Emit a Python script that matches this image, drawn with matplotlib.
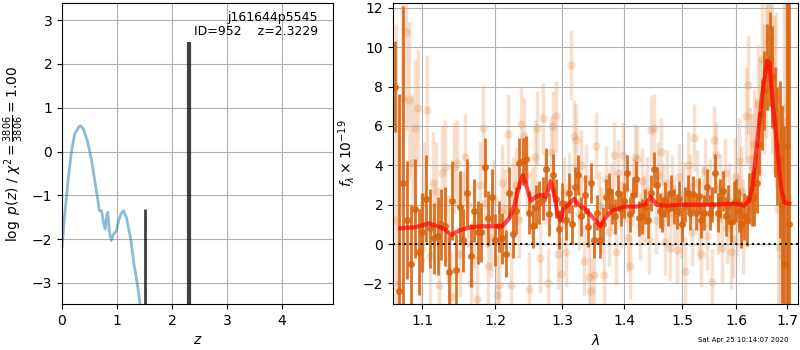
import numpy as np
import matplotlib
matplotlib.use('Agg')
import matplotlib.pyplot as plt
from matplotlib.ticker import FixedLocator, FixedFormatter, NullLocator, NullFormatter

# ---- p(z) panel ----
pz_z = [0.0, 0.05, 0.11, 0.17, 0.23, 0.31, 0.34, 0.39, 0.46, 0.54, 0.60, 0.63, 0.68,
        0.72, 0.75, 0.785, 0.816, 0.834, 0.86, 0.896, 0.94, 0.99, 1.03, 1.07, 1.12,
        1.17, 1.245, 1.31, 1.37, 1.42]
pz_logp = [-2.19, -1.43, -0.67, -0.02, 0.40, 0.57, 0.59, 0.51, 0.25, -0.21, -0.70, -0.93,
           -1.35, -1.35, -1.58, -1.77, -1.43, -1.39, -1.81, -2.03, -1.88, -1.81, -1.58,
           -1.43, -1.35, -1.50, -1.96, -2.57, -3.02, -3.48]
peak_z = [1.515, 2.319]
peak_logp = [-1.31, 2.51]
peak_lw = [2.0, 3.0]

# ---- spectrum panel: binned (dark) ----
lam_dark = [1.065, 1.070, 1.075, 1.080, 1.085, 1.090, 1.095, 1.100, 1.105, 1.110,
            1.115, 1.120, 1.125, 1.130, 1.135, 1.140, 1.145, 1.150, 1.155, 1.160,
            1.165, 1.170, 1.175, 1.180, 1.185, 1.190, 1.195, 1.200, 1.205, 1.210,
            1.215, 1.220, 1.225, 1.230, 1.235, 1.240, 1.245, 1.250, 1.255, 1.260,
            1.265, 1.270, 1.275, 1.280, 1.285, 1.290, 1.295, 1.300, 1.305, 1.310,
            1.315, 1.320, 1.325, 1.330, 1.335, 1.340, 1.345, 1.350, 1.355, 1.360,
            1.365, 1.370, 1.375, 1.380, 1.385, 1.390, 1.395, 1.400, 1.405, 1.410,
            1.415, 1.420, 1.425, 1.430, 1.435, 1.440, 1.445, 1.450, 1.455, 1.460,
            1.465, 1.470, 1.475, 1.480, 1.485, 1.490, 1.495, 1.500, 1.505, 1.510,
            1.515, 1.520, 1.525, 1.530, 1.535, 1.540, 1.545, 1.550, 1.555, 1.560,
            1.565, 1.570, 1.575, 1.580, 1.585, 1.590, 1.595, 1.600, 1.605, 1.610,
            1.615, 1.620, 1.625, 1.630, 1.635, 1.640, 1.645, 1.650, 1.655, 1.660,
            1.665, 1.670, 1.675, 1.680, 1.685, 1.690, 1.695, 1.700, 1.705]
flux_dark = [8.0, -2.4, 3.1, 1.2, -1.0, 1.8, -0.4, 0.6, 2.3, 0.8,
             0.3, 0.4, 1.0, 0.9, -1.4, 2.2, -1.3, 1.9, 0.2, 2.6,
             -0.6, 1.7, 0.6, 0.6, 3.9, 1.3, 2.4, 0.2, 0.9, 0.3,
             -0.5, 2.6, 0.5, 1.7, 4.1, 4.2, 4.3, 1.6, 0.9, 1.9,
             2.1, 2.3, 3.8, 1.5, 3.5, 2.3, 0.75, 2.1, 1.2, 2.6,
             1.0, 2.9, 3.5, 1.4, 2.5, 0.85, 3.1, 0.2, 1.6, 0.2,
             1.0, 2.4, 2.7, 1.9, 1.4, 2.6, 1.8, 2.2, 3.6, 1.5,
             2.5, 3.3, 1.3, 1.4, 1.9, 1.2, 2.6, 3.8, 3.0, 1.7,
             1.5, 2.25, 1.8, 2.6, 1.9, 1.66, 2.3, 1.0, 2.0, 2.6,
             1.6, 2.55, 1.6, 2.45, 1.2, 1.6, 2.9, 1.6, 2.0, 3.6,
             1.6, 2.3, 2.7, 1.4, 2.0, 1.1, 2.1, 2.2, 1.7, 1.0,
             1.4, 1.2, 2.3, 2.3, 2.4, 3.1, 5.1, 6.6, 7.8, 9.0,
             9.4, 8.5, 6.2, 5.0, 4.3, 2.0, -1.0, 5.0, 1.0]
err_dark = [2.3, 10.0, 9.0, 3.0, 3.0, 2.5, 2.2, 2.0, 2.2, 2.0,
            1.8, 2.0, 1.8, 2.0, 1.8, 2.0, 1.8, 1.8, 1.6, 1.7,
            1.6, 1.6, 1.6, 1.5, 1.5, 1.4, 1.4, 1.3, 1.3, 1.3,
            1.2, 1.3, 1.2, 1.2, 1.3, 1.2, 1.2, 1.1, 1.1, 1.1,
            1.1, 1.1, 1.1, 1.1, 1.1, 1.0, 1.0, 1.0, 1.0, 1.0,
            1.0, 1.0, 1.0, 1.0, 1.0, 1.0, 1.0, 0.9, 0.9, 0.9,
            0.9, 0.9, 0.9, 0.9, 0.9, 0.9, 0.9, 0.9, 0.9, 0.9,
            0.9, 0.9, 0.9, 0.9, 0.9, 0.9, 0.9, 0.9, 0.9, 0.9,
            0.9, 0.9, 0.9, 0.9, 0.9, 0.9, 0.9, 0.9, 0.9, 0.9,
            0.9, 0.9, 0.9, 0.9, 0.9, 0.9, 0.9, 0.9, 0.9, 1.0,
            1.0, 1.0, 1.0, 1.0, 1.0, 1.0, 1.1, 1.1, 1.1, 1.2,
            1.2, 1.3, 1.3, 1.4, 1.5, 1.5, 1.6, 1.8, 2.0, 2.2,
            2.4, 2.6, 2.8, 3.0, 4.0, 5.0, 7.0, 10.0, 12.0]

# ---- spectrum panel: unbinned (light) ----
lam_light = [1.066, 1.070, 1.074, 1.078, 1.082, 1.086, 1.090, 1.094, 1.098, 1.102,
             1.106, 1.110, 1.114, 1.118, 1.122, 1.126, 1.130, 1.134, 1.138, 1.142,
             1.146, 1.150, 1.154, 1.158, 1.162, 1.166, 1.170, 1.174, 1.178, 1.182,
             1.186, 1.190, 1.194, 1.198, 1.202, 1.206, 1.210, 1.214, 1.218, 1.222,
             1.226, 1.230, 1.234, 1.238, 1.242, 1.246, 1.250, 1.254, 1.258, 1.262,
             1.266, 1.270, 1.274, 1.278, 1.282, 1.286, 1.290, 1.294, 1.298, 1.302,
             1.306, 1.310, 1.314, 1.318, 1.322, 1.326, 1.330, 1.334, 1.338, 1.342,
             1.346, 1.350, 1.354, 1.358, 1.362, 1.366, 1.370, 1.374, 1.378, 1.382,
             1.386, 1.390, 1.394, 1.398, 1.402, 1.406, 1.410, 1.414, 1.418, 1.422,
             1.426, 1.430, 1.434, 1.438, 1.442, 1.446, 1.450, 1.454, 1.458, 1.462,
             1.466, 1.470, 1.474, 1.478, 1.482, 1.486, 1.490, 1.494, 1.498, 1.502,
             1.506, 1.510, 1.514, 1.518, 1.522, 1.526, 1.530, 1.534, 1.538, 1.542,
             1.546, 1.550, 1.554, 1.558, 1.562, 1.566, 1.570, 1.574, 1.578, 1.582,
             1.586, 1.590, 1.594, 1.598, 1.602, 1.606, 1.610, 1.614, 1.618, 1.622,
             1.626, 1.630, 1.634, 1.638, 1.642, 1.646, 1.650, 1.654, 1.658, 1.662,
             1.666, 1.670, 1.674, 1.678, 1.682, 1.686, 1.690, 1.694, 1.698, 1.702]
flux_light = [1.2, -2.0, 7.4, 10.8, 7.3, 4.1, 5.9, 6.9, -0.8, 2.4,
              6.8, -0.6, 3.1, 2.7, -2.1, 3.6, 3.9, 0.2, -2.7, 3.9,
              4.1, -0.5, 1.5, 4.4, 2.0, -2.0, 1.0, -2.8, 3.0, 5.9,
              2.1, -1.1, 0.3, 2.3, -2.6, -2.1, 3.1, 1.8, 5.6, -2.1,
              2.5, 3.0, 1.2, 6.1, 5.5, 3.5, -2.3, 2.0, 4.4, 5.9,
              -0.7, 6.4, 2.8, -2.0, 4.7, 6.0, 6.5, -0.5, -1.5, 2.6,
              -0.4, 2.9, 9.1, 5.5, 5.3, 1.5, 4.0, -0.85, 3.3, -1.7,
              -2.4, -1.6, 5.0, 2.0, 1.2, -1.6, 3.3, 0.6, 2.4, 4.5,
              -0.4, 3.6, 1.5, 4.5, 2.8, 0.3, -1.1, 2.6, 4.4, 4.3,
              0.9, 3.2, 1.8, 2.7, 0.2, 5.8, 5.9, 1.2, 3.5, 4.7,
              2.4, 0.1, 3.1, -0.2, 2.8, 1.6, -0.3, 3.4, 1.0, 2.5,
              -1.35, 4.0, 2.9, 0.6, 5.4, 3.1, 0.9, -0.5, 2.3, 3.7,
              0.4, 2.6, -1.95, 5.3, 4.5, 1.3, 2.8, -0.2, 3.6, 0.8,
              2.2, -0.4, 0.25, 3.4, 1.5, 4.2, 2.7, 0.9, 6.5, 8.1,
              4.3, 3.9, 5.1, 4.5, 7.1, 6.3, 9.4, 7.9, 8.8, 10.25,
              10.5, 8.4, 7.6, 7.3, 1.8, -0.2, -0.6, 6.9, 6.2, 2.4]
err_light = [10.0, 9.0, 6.0, 5.0, 4.0, 3.5, 3.5, 3.0, 3.0, 2.8,
             2.8, 2.6, 2.6, 2.5, 2.5, 2.4, 2.4, 2.3, 2.3, 2.3,
             2.2, 2.2, 2.2, 2.2, 2.2, 2.2, 2.2, 2.2, 2.2, 2.2,
             2.0, 2.0, 2.0, 2.0, 2.0, 2.0, 2.0, 2.0, 2.0, 2.0,
             1.9, 1.9, 1.9, 1.9, 1.9, 1.9, 1.9, 1.9, 1.9, 1.9,
             1.8, 1.8, 1.8, 1.8, 1.8, 1.8, 1.8, 1.8, 1.8, 1.8,
             1.8, 1.8, 1.8, 1.8, 1.8, 1.8, 1.8, 1.8, 1.8, 1.8,
             1.7, 1.7, 1.7, 1.7, 1.7, 1.7, 1.7, 1.7, 1.7, 1.7,
             1.7, 1.7, 1.7, 1.7, 1.7, 1.7, 1.7, 1.7, 1.7, 1.7,
             1.7, 1.7, 1.7, 1.7, 1.7, 1.7, 1.7, 1.7, 1.7, 1.7,
             1.7, 1.7, 1.7, 1.7, 1.7, 1.7, 1.7, 1.7, 1.7, 1.7,
             1.7, 1.7, 1.7, 1.7, 1.7, 1.7, 1.7, 1.7, 1.7, 1.7,
             1.7, 1.7, 1.7, 1.7, 1.7, 1.8, 1.8, 1.8, 1.8, 1.8,
             1.9, 1.9, 2.0, 2.0, 2.1, 2.2, 2.3, 2.4, 2.5, 2.5,
             2.6, 2.7, 2.8, 2.9, 3.0, 3.1, 3.2, 3.3, 3.4, 3.5,
             3.6, 3.8, 4.0, 4.5, 5.0, 6.0, 7.0, 8.0, 9.0, 10.0]

# ---- best-fit model ----
lam_model = [1.071, 1.090, 1.100, 1.108, 1.120, 1.130, 1.138, 1.150, 1.165, 1.180,
             1.200, 1.210, 1.220, 1.228, 1.235, 1.240, 1.245, 1.252, 1.260, 1.268,
             1.275, 1.282, 1.288, 1.292, 1.297, 1.302, 1.310, 1.318, 1.325, 1.335,
             1.350, 1.360, 1.370, 1.380, 1.400, 1.420, 1.435, 1.445, 1.455, 1.470,
             1.500, 1.550, 1.600, 1.615, 1.625, 1.632, 1.640, 1.650, 1.660, 1.665,
             1.672, 1.680, 1.688, 1.695, 1.705]
flux_model = [0.8, 0.85, 0.95, 1.05, 0.9, 0.75, 0.45, 0.7, 0.85, 0.9,
              0.9, 0.9, 1.3, 2.0, 3.0, 3.5, 3.0, 2.2, 2.4, 2.5,
              2.4, 3.2, 2.5, 1.6, 1.2, 1.8, 2.0, 2.3, 2.0, 1.8,
              1.3, 0.9, 1.4, 1.7, 1.9, 1.9, 2.0, 2.4, 2.0, 1.95,
              2.0, 2.0, 2.05, 1.95, 2.2, 3.0, 5.0, 7.5, 9.3, 9.2,
              7.0, 5.0, 2.9, 2.1, 2.05]

dark = '#d9640f'

fig = plt.figure(figsize=(8, 3.5), dpi=100)
ax1 = fig.add_axes([0.0775, 0.1314, 0.3388, 0.86])
ax2 = fig.add_axes([0.49125, 0.1314, 0.50625, 0.86])

# left: log p(z)
ax1.plot(pz_z, pz_logp, color='#1f77b4', alpha=0.5, lw=2)
for z, lp, lw in zip(peak_z, peak_logp, peak_lw):
    ax1.vlines(z, -4, lp, color='k', alpha=0.75, lw=lw)
ax1.set_xlim(0, 4.93)
ax1.set_ylim(-3.48, 3.39)
ax1.set_xticks([0, 1, 2, 3, 4])
ax1.set_yticks([-3, -2, -1, 0, 1, 2, 3])
ax1.grid(True)
ax1.set_xlabel('$z$')
ax1.set_ylabel(r'$\log\ p(z)$' + ' / ' + r'$\chi^2=\frac{3806}{3806}=1.00$')
ax1.text(0.945, 0.975, 'j161644p5545\nID=952    z=2.3229', transform=ax1.transAxes,
         ha='right', va='top', fontsize=9, linespacing=1.15)

# right: spectrum
ax2.errorbar(lam_light, flux_light, yerr=err_light, fmt='o', color=dark, alpha=0.2,
             ms=6, mec='none', elinewidth=2.5, capsize=0, zorder=1)
ax2.errorbar(lam_dark, flux_dark, yerr=err_dark, fmt='o', color=dark, alpha=0.9,
             ms=5, mec='none', elinewidth=2.0, capsize=0, zorder=2)
ax2.plot(lam_model, flux_model, color='r', alpha=0.7, lw=3, zorder=3)
ax2.axhline(0, color='k', ls=':', lw=1.5, zorder=4)

ax2.set_xscale('log')
ax2.set_xlim(1.062, 1.7226)
ax2.set_ylim(-3.05, 12.25)
xt = [1.1, 1.2, 1.3, 1.4, 1.5, 1.6, 1.7]
ax2.xaxis.set_major_locator(FixedLocator(xt))
ax2.xaxis.set_major_formatter(FixedFormatter(['%.1f' % v for v in xt]))
ax2.xaxis.set_minor_locator(NullLocator())
ax2.xaxis.set_minor_formatter(NullFormatter())
ax2.set_yticks([-2, 0, 2, 4, 6, 8, 10, 12])
ax2.grid(True)
ax2.set_xlabel(r'$\lambda$')
ax2.set_ylabel(r'$f_\lambda\times10^{-19}$')

fig.text(0.985, 0.02, 'Sat Apr 25 10:14:07 2020', ha='right', va='bottom', fontsize=5)

fig.savefig('out.png', dpi=100)
